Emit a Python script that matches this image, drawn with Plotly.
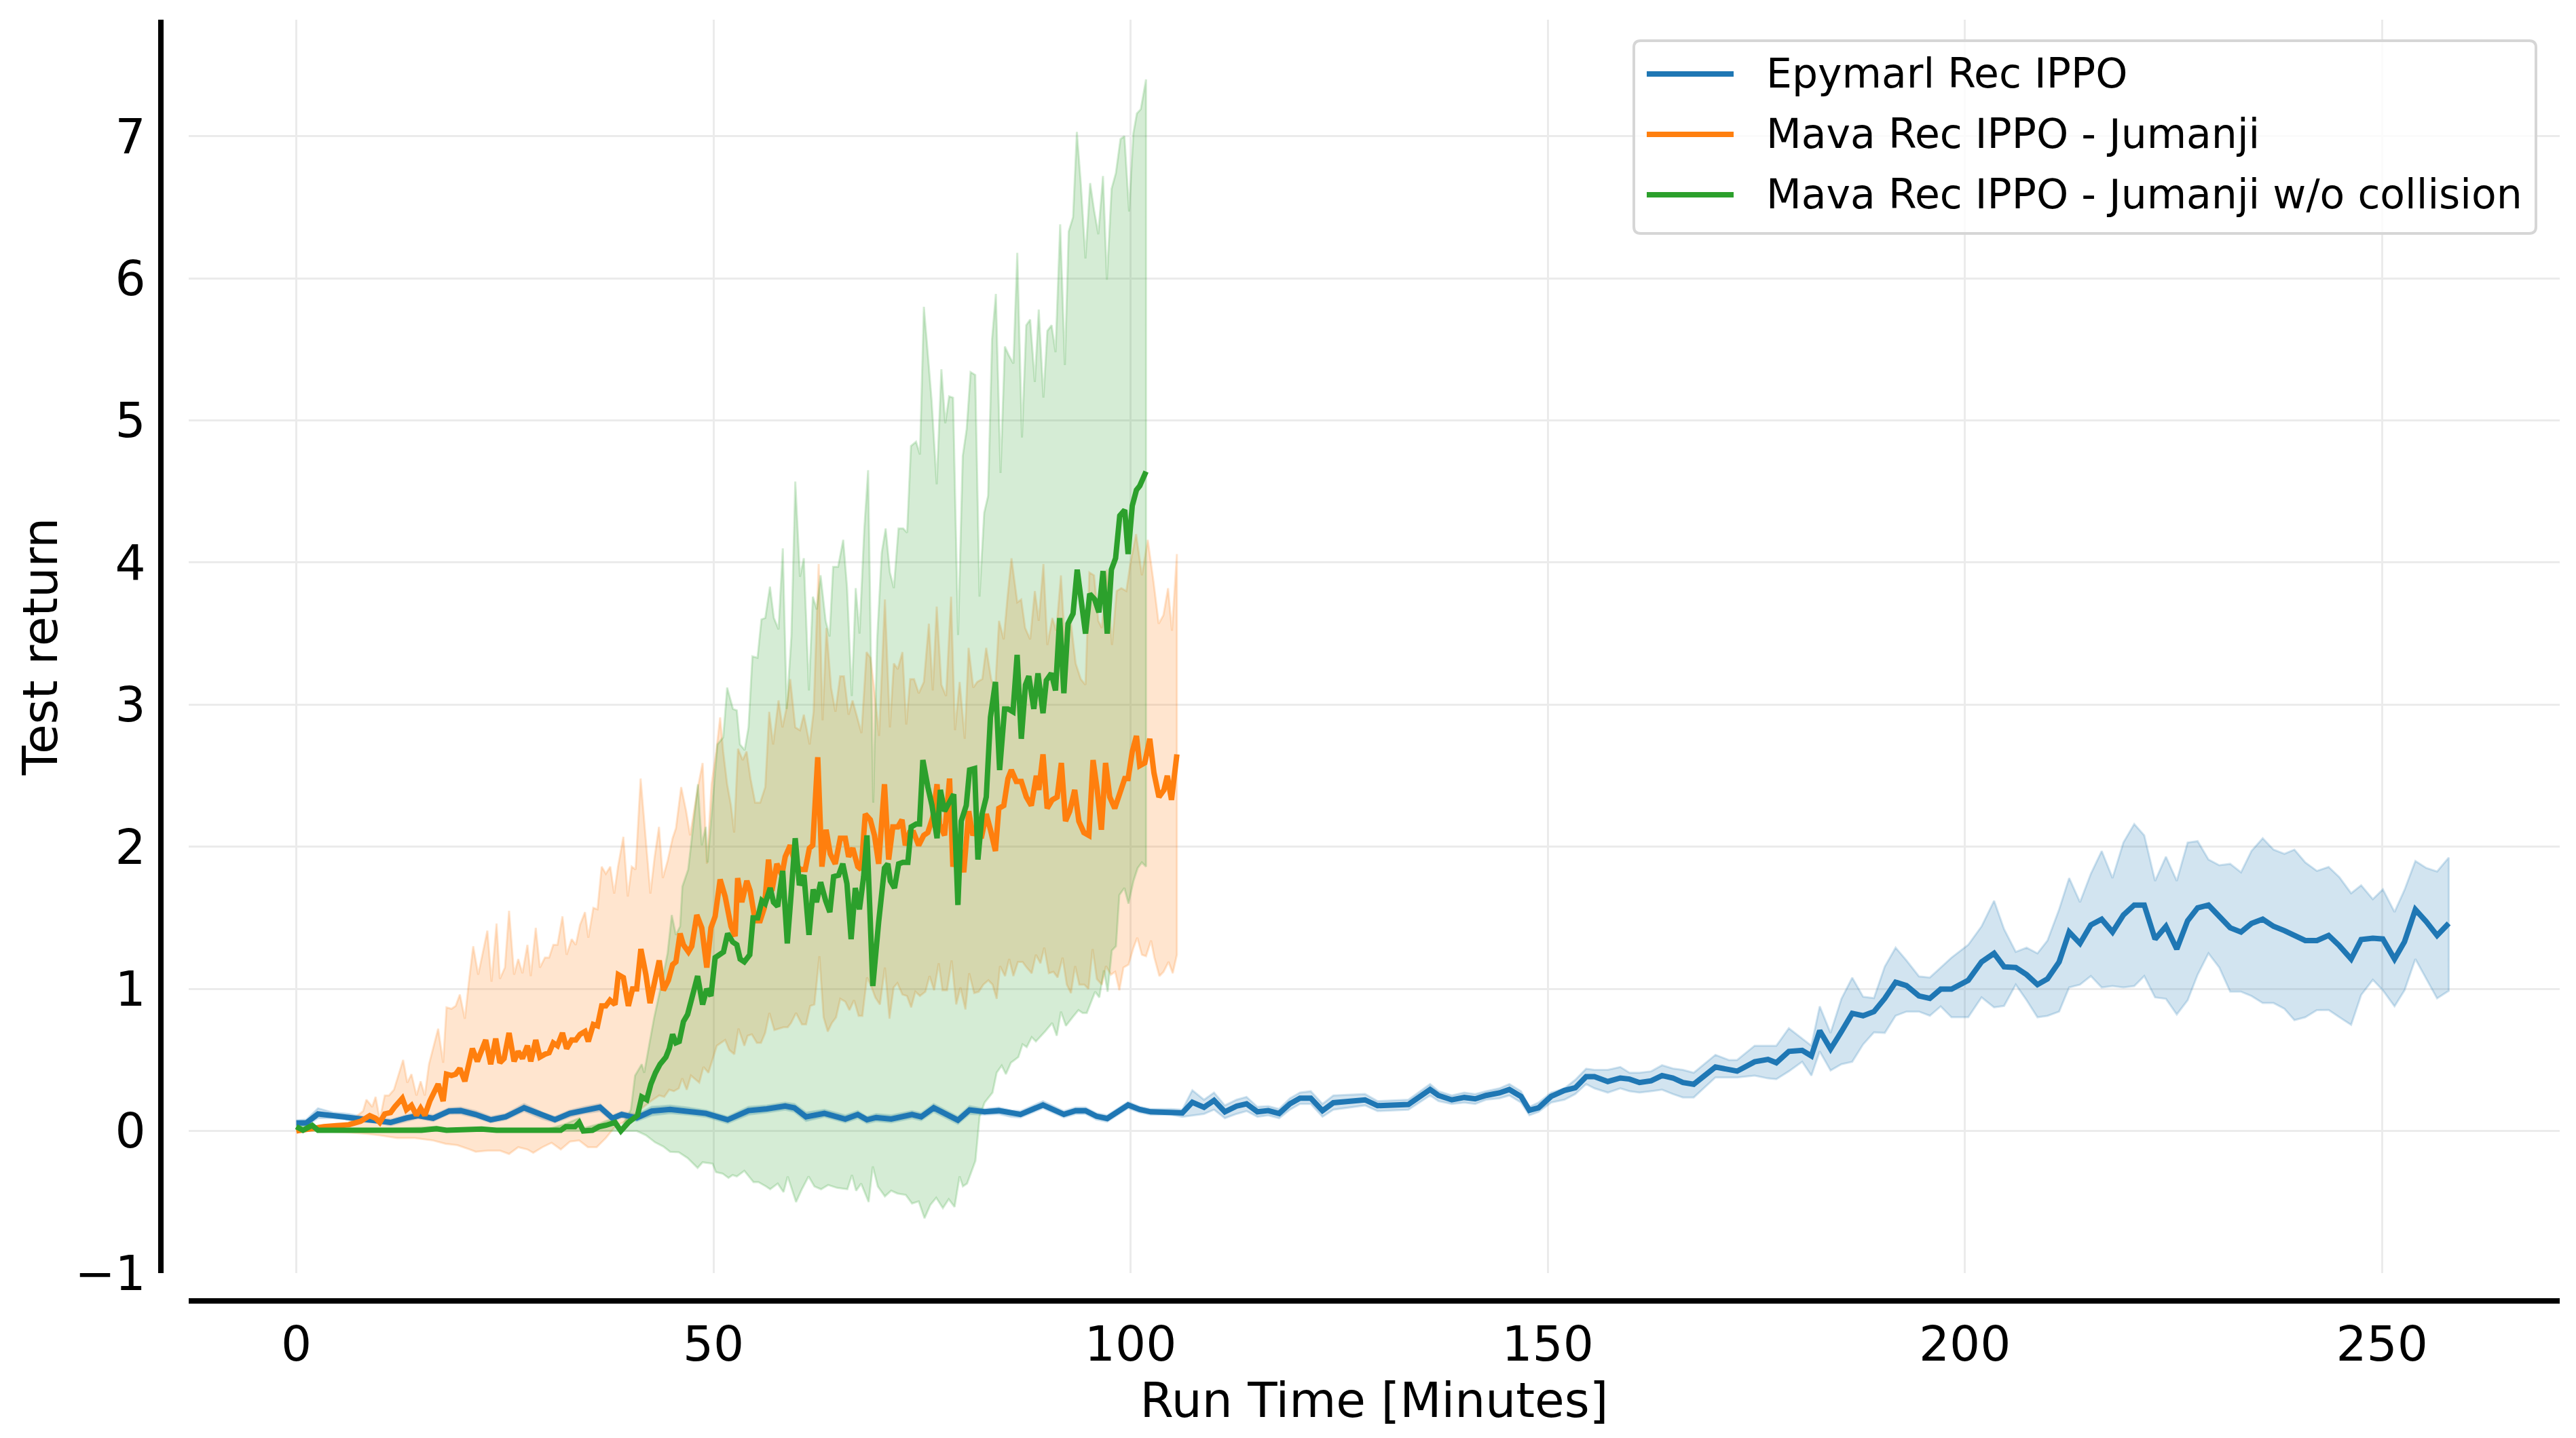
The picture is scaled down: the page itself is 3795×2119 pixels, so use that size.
import plotly.graph_objects as go

# ---------------- data ----------------
SERIES_NAMES = ["Epymarl Rec IPPO", "Mava Rec IPPO - Jumanji", "Mava Rec IPPO - Jumanji w/o collision"]
COLORS = ["#1f77b4", "#ff7f0e", "#2ca02c"]
FILLS = ["rgba(31,119,180,0.2)", "rgba(255,127,14,0.2)", "rgba(44,160,44,0.2)"]

X_TICKS = [0, 50, 100, 150, 200, 250]
Y_TICKS = [-1, 0, 1, 2, 3, 4, 5, 6, 7]
X_TITLE = "Run Time [Minutes]"
Y_TITLE = "Test return"

# Epymarl Rec IPPO: x, mean, lower, upper
blue_x = [0.0, 1.2, 2.6, 4.4, 6.3, 8.1, 9.5, 11.3, 13.2, 14.6, 16.4, 18.3, 19.7, 21.5, 23.3, 25.1, 27.3, 29.5, 31.0, 32.8,
          34.6, 36.4, 37.9, 39.0, 40.8, 42.6, 44.8, 46.9, 49.1, 51.7, 54.2, 56.4, 58.6, 59.7, 61.1, 63.3, 65.8, 67.3, 68.4, 69.5,
          71.3, 73.8, 74.9, 76.4, 79.3, 80.7, 82.5, 84.2, 85.7, 86.8, 89.5, 92.0, 93.4, 94.6, 95.9, 97.2, 99.7, 101.1, 102.4, 104.8,
          106.2, 107.4, 108.8, 110.0, 111.3, 112.7, 113.9, 115.2, 116.5, 117.8, 119.1, 120.3, 121.6, 123.0, 124.3, 128.1, 129.6, 133.3, 135.9, 136.9,
          138.5, 140.0, 141.3, 142.6, 144.2, 145.4, 146.8, 147.8, 148.9, 150.4, 152.0, 153.3, 154.6, 155.6, 157.2, 158.7, 159.8, 161.0, 162.4, 163.7,
          165.0, 166.2, 167.5, 170.1, 171.7, 172.7, 174.8, 176.4, 177.4, 178.9, 180.5, 181.6, 182.6, 183.9, 185.2, 186.5, 187.8, 189.1, 190.4, 191.7,
          193.0, 194.5, 195.8, 197.1, 198.4, 200.4, 202.0, 203.5, 204.7, 206.1, 207.4, 208.7, 209.9, 211.3, 212.5, 213.8, 215.1, 216.4, 217.7, 219.0,
          220.3, 221.5, 222.8, 224.1, 225.4, 226.7, 227.9, 229.2, 230.5, 231.8, 233.1, 234.35, 235.7, 237.0, 238.3, 239.5, 240.8, 242.2, 243.6, 244.9,
          246.3, 247.5, 248.9, 250.1, 251.5, 252.7, 254.0, 255.3, 256.6, 258.0]
blue_y = [0.057, 0.057, 0.12, 0.108, 0.10, 0.084, 0.076, 0.06, 0.092, 0.108, 0.089, 0.14, 0.143, 0.116, 0.079, 0.10, 0.163, 0.108, 0.079, 0.124,
          0.148, 0.167, 0.089, 0.116, 0.092, 0.14, 0.152, 0.14, 0.124, 0.079, 0.143, 0.156, 0.176, 0.163, 0.10, 0.124, 0.084, 0.116, 0.079, 0.095,
          0.084, 0.116, 0.10, 0.163, 0.076, 0.148, 0.135, 0.143, 0.123, 0.117, 0.183, 0.117, 0.143, 0.143, 0.104, 0.088, 0.183, 0.151, 0.135, 0.135,
          0.127, 0.202, 0.167, 0.215, 0.135, 0.175, 0.191, 0.135, 0.143, 0.123, 0.191, 0.231, 0.231, 0.143, 0.199, 0.219, 0.178, 0.187, 0.292, 0.25,
          0.219, 0.236, 0.226, 0.25, 0.268, 0.292, 0.243, 0.146, 0.163, 0.243, 0.285, 0.304, 0.382, 0.382, 0.348, 0.373, 0.365, 0.341, 0.353, 0.39,
          0.373, 0.341, 0.329, 0.45, 0.431, 0.421, 0.487, 0.504, 0.48, 0.56, 0.567, 0.528, 0.706, 0.577, 0.699, 0.828, 0.811, 0.84, 0.933, 1.047,
          1.023, 0.95, 0.933, 0.998, 0.998, 1.06, 1.19, 1.25, 1.155, 1.15, 1.10, 1.03, 1.07, 1.19, 1.40, 1.32, 1.45, 1.49, 1.40, 1.52,
          1.59, 1.59, 1.35, 1.44, 1.28, 1.48, 1.57, 1.59, 1.51, 1.43, 1.40, 1.46, 1.49, 1.44, 1.41, 1.38, 1.34, 1.34, 1.376, 1.303,
          1.21, 1.347, 1.356, 1.351, 1.21, 1.332, 1.558, 1.473, 1.376, 1.461]
blue_lo = [0.035, 0.04, 0.09, 0.09, 0.08, 0.065, 0.06, 0.04, 0.07, 0.09, 0.07, 0.12, 0.12, 0.095, 0.06, 0.08, 0.14, 0.085, 0.06, 0.10,
           0.125, 0.14, 0.07, 0.095, 0.07, 0.11, 0.125, 0.115, 0.10, 0.055, 0.115, 0.13, 0.15, 0.135, 0.07, 0.10, 0.06, 0.09, 0.055, 0.07,
           0.06, 0.09, 0.075, 0.135, 0.05, 0.12, 0.115, 0.12, 0.10, 0.095, 0.16, 0.095, 0.12, 0.12, 0.08, 0.065, 0.16, 0.13, 0.115, 0.115,
           0.10, 0.11, 0.12, 0.15, 0.09, 0.12, 0.14, 0.10, 0.11, 0.09, 0.15, 0.19, 0.19, 0.10, 0.15, 0.18, 0.14, 0.15, 0.25, 0.21,
           0.19, 0.20, 0.19, 0.22, 0.23, 0.25, 0.20, 0.11, 0.134, 0.20, 0.22, 0.26, 0.33, 0.30, 0.27, 0.30, 0.28, 0.27, 0.28, 0.29,
           0.26, 0.236, 0.236, 0.377, 0.377, 0.377, 0.39, 0.37, 0.365, 0.42, 0.487, 0.39, 0.56, 0.426, 0.47, 0.487, 0.609, 0.694, 0.69, 0.811,
           0.84, 0.84, 0.811, 0.877, 0.80, 0.80, 0.94, 0.87, 0.88, 1.03, 0.92, 0.80, 0.81, 0.84, 1.01, 1.03, 1.09, 1.01, 1.02, 1.01,
           1.02, 1.09, 0.94, 0.93, 0.82, 0.92, 1.10, 1.25, 1.15, 0.98, 0.98, 0.95, 0.90, 0.90, 0.86, 0.78, 0.80, 0.85, 0.852, 0.80,
           0.747, 0.957, 1.064, 0.99, 0.877, 0.99, 1.21, 1.071, 0.933, 0.986]
blue_hi = [0.075, 0.08, 0.16, 0.13, 0.12, 0.10, 0.095, 0.08, 0.11, 0.13, 0.11, 0.16, 0.165, 0.14, 0.10, 0.12, 0.19, 0.13, 0.10, 0.145,
           0.17, 0.19, 0.11, 0.135, 0.115, 0.17, 0.18, 0.165, 0.145, 0.10, 0.17, 0.18, 0.20, 0.19, 0.13, 0.15, 0.11, 0.14, 0.10, 0.12,
           0.11, 0.14, 0.125, 0.19, 0.10, 0.175, 0.155, 0.165, 0.145, 0.14, 0.21, 0.14, 0.165, 0.165, 0.125, 0.11, 0.205, 0.17, 0.155, 0.155,
           0.15, 0.287, 0.22, 0.27, 0.18, 0.22, 0.24, 0.17, 0.175, 0.155, 0.23, 0.27, 0.28, 0.19, 0.25, 0.26, 0.21, 0.22, 0.33, 0.28,
           0.25, 0.27, 0.26, 0.28, 0.30, 0.33, 0.28, 0.17, 0.20, 0.27, 0.30, 0.36, 0.438, 0.43, 0.43, 0.45, 0.41, 0.41, 0.42, 0.463,
           0.44, 0.43, 0.41, 0.536, 0.50, 0.50, 0.60, 0.60, 0.60, 0.723, 0.65, 0.60, 0.877, 0.69, 0.93, 1.079, 0.945, 0.935, 1.157, 1.29,
           1.20, 1.088, 1.08, 1.15, 1.22, 1.31, 1.44, 1.62, 1.42, 1.26, 1.29, 1.25, 1.34, 1.56, 1.78, 1.61, 1.81, 1.97, 1.78, 2.03,
           2.16, 2.08, 1.76, 1.93, 1.76, 2.03, 2.04, 1.91, 1.87, 1.88, 1.82, 1.97, 2.06, 1.98, 1.95, 1.98, 1.89, 1.83, 1.858, 1.785,
           1.673, 1.729, 1.631, 1.70, 1.541, 1.697, 1.90, 1.851, 1.826, 1.924]

# Mava Rec IPPO - Jumanji (mean line)
orange_x = [0.0, 1.0, 1.9, 3.3, 4.8, 6.3, 7.7, 8.8, 9.5, 10.0, 10.6, 11.3, 11.8, 12.7, 13.2, 13.8, 14.4, 14.9, 15.4, 16.0,
            17.0, 17.6, 18.0, 18.6, 19.1, 19.6, 20.2, 21.1, 21.7, 22.7, 23.3, 23.9, 24.4, 24.9, 25.5, 26.1, 26.6, 27.1, 27.7, 28.1,
            28.7, 29.2, 29.8, 30.3, 30.8, 31.3, 31.9, 32.4, 33.0, 33.5, 34.0, 34.6, 35.0, 35.6, 36.1, 36.6, 37.1, 37.6, 38.2, 38.6,
            39.2, 39.8, 40.3, 40.8, 41.3, 41.9, 42.4, 43.0, 43.5, 44.0, 44.6, 45.1, 45.5, 46.0, 46.4, 47.0, 47.4, 48.0, 48.6, 49.2,
            49.7, 50.2, 50.8, 51.4, 51.8, 52.1, 52.6, 52.9, 53.4, 54.0, 54.4, 55.0, 55.6, 56.1, 56.6, 57.0, 57.6, 58.2, 58.6, 59.2,
            59.8, 60.4, 61.0, 61.5, 61.9, 62.5, 63.0, 63.5, 64.0, 64.6, 65.2, 65.8, 66.2, 66.7, 67.3, 67.7, 68.2, 68.8, 69.3, 69.8,
            70.5, 71.0, 71.5, 72.1, 72.6, 73.0, 73.5, 74.0, 74.6, 75.2, 75.7, 76.3, 76.8, 77.1, 77.7, 78.3, 78.7, 79.4, 80.0, 80.6,
            81.1, 81.5, 82.1, 82.7, 83.2, 83.8, 84.2, 84.8, 85.3, 85.7, 86.3, 86.9, 87.5, 88.1, 88.7, 89.0, 89.5, 90.0, 90.6, 91.2,
            91.7, 92.2, 92.7, 93.3, 93.8, 94.4, 95.0, 95.5, 96.0, 96.5, 97.0, 97.5, 98.1, 98.7, 99.3, 99.7, 100.2, 100.7, 101.1, 101.7,
            102.3, 102.8, 103.4, 104.0, 104.4, 104.9, 105.55]
orange_y = [0.0, 0.01, 0.013, 0.03, 0.037, 0.044, 0.068, 0.108, 0.09, 0.06, 0.12, 0.13, 0.17, 0.23, 0.15, 0.18, 0.11, 0.16, 0.11, 0.21,
            0.33, 0.21, 0.40, 0.39, 0.40, 0.44, 0.35, 0.58, 0.49, 0.64, 0.47, 0.65, 0.48, 0.51, 0.69, 0.49, 0.56, 0.51, 0.60, 0.49,
            0.64, 0.52, 0.54, 0.55, 0.62, 0.60, 0.69, 0.58, 0.64, 0.64, 0.68, 0.70, 0.63, 0.75, 0.74, 0.88, 0.88, 0.92, 0.89, 1.10,
            1.08, 0.88, 1.00, 1.00, 1.28, 1.10, 0.90, 1.07, 1.20, 0.99, 1.06, 1.17, 1.19, 1.39, 1.31, 1.26, 1.30, 1.52, 1.43, 1.15,
            1.43, 1.51, 1.77, 1.65, 1.50, 1.44, 1.37, 1.78, 1.61, 1.76, 1.69, 1.48, 1.48, 1.57, 1.91, 1.69, 1.88, 1.80, 1.93, 2.01,
            1.88, 1.84, 1.84, 1.99, 2.01, 2.63, 1.86, 2.12, 1.95, 1.88, 2.06, 2.06, 1.93, 1.99, 1.86, 1.84, 2.23, 2.19, 2.08, 1.88,
            2.44, 1.91, 2.14, 2.14, 2.19, 2.01, 2.10, 2.10, 2.01, 2.08, 2.10, 2.21, 2.44, 2.16, 2.08, 2.48, 1.86, 2.03, 1.82, 2.25,
            2.08, 2.14, 2.06, 2.23, 2.12, 1.97, 2.27, 2.29, 2.48, 2.54, 2.46, 2.46, 2.35, 2.29, 2.50, 2.40, 2.65, 2.27, 2.33, 2.35,
            2.59, 2.18, 2.25, 2.40, 2.18, 2.10, 2.08, 2.61, 2.40, 2.12, 2.59, 2.35, 2.27, 2.37, 2.48, 2.48, 2.67, 2.78, 2.57, 2.59,
            2.76, 2.52, 2.35, 2.40, 2.50, 2.33, 2.65]

orange_hi_x = [0.0, 2.6, 4.8, 6.3, 8.0, 8.4, 9.1, 9.5, 10.0, 10.6, 11.1, 11.7, 12.8, 13.3, 13.8, 14.4, 14.9, 15.4, 15.9, 17.0,
               17.6, 18.0, 18.6, 19.1, 19.6, 20.2, 20.7, 21.2, 21.8, 22.9, 23.4, 24.0, 24.4, 25.0, 25.5, 26.1, 26.6, 27.1, 27.7, 28.1,
               28.7, 29.2, 29.8, 30.3, 30.8, 31.3, 31.9, 32.4, 33.0, 33.5, 34.0, 34.6, 35.0, 35.6, 36.1, 36.6, 37.1, 37.63, 38.1, 38.56,
               39.2, 39.73, 40.2, 40.66, 41.27, 41.83, 42.44, 42.95, 43.47, 43.93, 44.5, 45.1, 45.5, 46.13, 46.73, 47.2, 47.67, 48.14, 48.7, 49.21,
               49.77, 50.33, 50.8, 51.17, 51.64, 52.1, 52.48, 52.94, 53.5, 53.97, 54.44, 55.0, 55.6, 56.21, 56.68, 57.15, 57.8, 58.27, 58.73, 59.2,
               59.81, 60.37, 60.83, 61.53, 62.0, 62.61, 63.08, 63.54, 64.1, 64.62, 65.18, 65.64, 66.2, 66.67, 67.14, 67.74, 68.35, 68.82, 69.29, 69.85,
               70.55, 71.15, 71.62, 72.09, 72.65, 73.11, 73.58, 74.05, 74.61, 75.22, 75.82, 76.29, 76.76, 77.32, 77.88, 78.48, 78.95, 79.51, 80.12, 80.58,
               81.14, 81.61, 82.22, 82.69, 83.29, 83.76, 84.23, 84.79, 85.25, 85.72, 86.42, 86.89, 87.36, 87.96, 88.52, 88.99, 89.55, 90.02, 90.62, 91.09,
               91.65, 92.26, 92.82, 93.42, 94.03, 94.59, 95.06, 95.62, 96.13, 96.55, 97.16, 97.77, 98.33, 98.89, 99.49, 99.96, 100.66, 101.36, 102.06, 102.76,
               103.37, 103.93, 104.49, 104.96, 105.55]
orange_hi = [0.0, 0.01, 0.03, 0.06, 0.14, 0.22, 0.17, 0.24, 0.08, 0.25, 0.25, 0.29, 0.50, 0.34, 0.40, 0.25, 0.35, 0.25, 0.47, 0.72,
             0.48, 0.87, 0.86, 0.88, 0.96, 0.79, 1.06, 1.30, 1.10, 1.41, 1.05, 1.46, 1.07, 1.15, 1.55, 1.10, 1.21, 1.11, 1.31, 1.09,
             1.43, 1.15, 1.22, 1.22, 1.31, 1.31, 1.51, 1.24, 1.35, 1.31, 1.45, 1.54, 1.36, 1.57, 1.56, 1.86, 1.81, 1.86, 1.67, 1.86,
             2.07, 1.65, 1.86, 1.84, 2.48, 2.08, 1.67, 1.93, 2.14, 1.78, 1.90, 2.06, 2.13, 2.42, 2.25, 2.08, 2.25, 2.42, 2.59, 1.88,
             2.44, 2.67, 2.91, 2.67, 2.44, 2.29, 2.10, 2.69, 2.61, 2.67, 2.48, 2.31, 2.31, 2.42, 2.95, 2.72, 3.03, 2.84, 2.97, 3.18,
             2.84, 2.82, 2.93, 2.72, 2.95, 3.99, 2.89, 3.54, 3.12, 2.95, 3.20, 3.20, 2.93, 3.03, 2.93, 2.80, 3.37, 3.33, 3.10, 2.78,
             3.74, 2.84, 3.29, 3.25, 3.37, 2.86, 3.18, 3.18, 3.08, 3.16, 3.57, 3.10, 3.69, 3.14, 3.06, 3.76, 2.82, 3.16, 2.76, 3.40,
             3.12, 3.16, 3.18, 3.40, 3.18, 3.10, 3.59, 3.46, 3.76, 4.03, 3.72, 3.74, 3.54, 3.46, 3.80, 3.59, 3.99, 3.42, 3.61, 3.52,
             3.91, 3.31, 3.59, 3.29, 3.18, 3.14, 3.93, 3.91, 3.59, 3.54, 3.95, 3.42, 3.80, 3.82, 3.80, 3.99, 4.20, 3.91, 4.16, 3.86,
             3.57, 3.63, 3.82, 3.52, 4.06]

orange_lo_x = [0.0, 2.6, 6.3, 8.4, 9.9, 12.1, 14.2, 16.4, 17.9, 19.3, 20.8, 21.5, 23.0, 24.4, 25.5, 26.6, 27.7, 28.4, 29.5, 30.6,
               31.7, 32.8, 33.9, 34.95, 36.0, 37.1, 38.2, 39.8, 41.2, 42.5, 43.5, 44.1, 44.7, 45.25, 45.85, 46.25, 46.8, 47.3, 48.3, 48.8,
               49.4, 50.4, 51.4, 51.9, 52.5, 53.0, 53.7, 54.1, 54.6, 55.2, 55.7, 56.2, 56.7, 57.3, 57.9, 58.4, 58.9, 59.3, 59.9, 60.6,
               61.1, 61.6, 62.1, 62.7, 63.2, 63.7, 64.2, 64.7, 65.2, 65.8, 66.3, 66.85, 67.4, 67.85, 68.4, 68.9, 69.4, 69.95, 70.55, 71.1,
               71.6, 72.05, 72.65, 73.2, 73.7, 74.2, 74.75, 75.4, 75.9, 76.45, 77.0, 77.45, 78.0, 78.55, 79.1, 79.6, 80.2, 80.65, 81.25, 81.8,
               82.35, 82.95, 83.45, 83.95, 84.35, 84.95, 85.45, 85.95, 86.5, 87.05, 87.55, 88.15, 88.65, 89.2, 89.65, 90.2, 90.75, 91.25, 91.85, 92.35,
               92.85, 93.35, 93.85, 94.45, 94.95, 95.45, 95.95, 96.55, 97.05, 97.65, 98.15, 98.65, 99.15, 99.75, 100.35, 100.8, 101.35, 101.85, 102.45, 102.85,
               103.45, 103.95, 104.55, 105.05, 105.55]
orange_lo = [0.0, 0.0, -0.01, -0.02, -0.03, -0.05, -0.05, -0.067, -0.09, -0.10, -0.13, -0.146, -0.138, -0.138, -0.162, -0.114, -0.13, -0.154, -0.114, -0.083,
             -0.13, -0.075, -0.067, -0.114, -0.114, -0.05, 0.03, 0.08, 0.15, 0.21, 0.25, 0.24, 0.29, 0.28, 0.30, 0.37, 0.29, 0.39, 0.34, 0.45,
             0.41, 0.60, 0.64, 0.57, 0.54, 0.72, 0.60, 0.67, 0.68, 0.62, 0.62, 0.69, 0.83, 0.71, 0.72, 0.73, 0.73, 0.76, 0.83, 0.75,
             0.75, 0.88, 0.89, 1.23, 0.80, 0.70, 0.76, 0.80, 0.93, 0.91, 0.85, 0.92, 0.81, 0.81, 1.08, 1.02, 0.94, 0.89, 1.15, 0.79,
             1.01, 1.04, 0.96, 0.95, 0.87, 0.98, 0.95, 0.98, 1.09, 0.99, 1.18, 0.99, 0.99, 1.20, 0.89, 1.01, 0.855, 1.11, 0.97, 0.98,
             1.03, 1.06, 1.03, 0.93, 1.16, 1.09, 1.21, 1.09, 1.19, 1.19, 1.15, 1.11, 1.24, 1.18, 1.29, 1.11, 1.12, 1.08, 1.22, 1.03,
             0.97, 1.16, 1.03, 1.03, 1.00, 1.28, 1.07, 1.03, 1.16, 1.10, 1.12, 0.99, 1.15, 1.17, 1.29, 1.36, 1.24, 1.23, 1.34, 1.22,
             1.09, 1.12, 1.19, 1.11, 1.24]

# Mava Rec IPPO - Jumanji w/o collision (mean line)
green_x = [0.0, 0.8, 1.9, 2.6, 5.0, 10.0, 15.0, 16.8, 18.0, 22.2, 24.0, 30.0, 31.7, 32.3, 33.4, 33.9, 34.4, 35.5, 36.3, 37.1,
           38.2, 38.9, 39.8, 40.9, 41.4, 42.0, 42.5, 43.05, 43.6, 44.3, 44.7, 45.1, 45.5, 45.9, 46.4, 46.9, 47.5, 48.1, 48.7, 49.2,
           49.7, 50.2, 51.2, 51.7, 52.3, 52.8, 53.2, 53.7, 54.35, 54.75, 55.3, 55.8, 56.2, 56.8, 57.2, 57.7, 58.3, 58.85, 59.3, 59.8,
           60.3, 60.85, 61.45, 61.95, 62.35, 62.85, 63.45, 63.95, 64.4, 65.0, 65.5, 66.0, 66.5, 67.0, 67.5, 68.0, 68.4, 69.1, 69.8, 70.5,
           70.9, 71.2, 71.7, 72.2, 72.7, 73.3, 73.7, 74.3, 74.7, 75.1, 75.7, 76.2, 76.8, 77.2, 77.7, 78.2, 78.8, 79.3, 79.7, 80.3,
           80.7, 81.3, 81.7, 82.2, 82.7, 83.2, 83.8, 84.3, 84.9, 85.3, 85.9, 86.4, 86.9, 87.4, 87.8, 88.4, 88.9, 89.5, 89.9, 90.5,
           91.0, 91.5, 92.0, 92.5, 93.1, 93.6, 94.1, 94.6, 95.1, 95.7, 96.2, 96.7, 97.2, 97.7, 98.2, 98.7, 99.3, 99.7, 100.2, 100.7,
           101.1, 101.5, 101.85]
green_y = [0.03, 0.005, 0.04, 0.005, 0.005, 0.005, 0.005, 0.016, 0.005, 0.013, 0.005, 0.005, 0.005, 0.03, 0.03, 0.06, 0.0, 0.005, 0.03, 0.04,
           0.06, 0.0, 0.06, 0.11, 0.24, 0.22, 0.33, 0.41, 0.47, 0.52, 0.58, 0.68, 0.62, 0.63, 0.77, 0.82, 0.96, 1.09, 0.89, 1.0,
           0.95, 1.22, 1.26, 1.39, 1.33, 1.31, 1.21, 1.19, 1.24, 1.50, 1.50, 1.62, 1.60, 1.71, 1.61, 1.58, 1.83, 1.32, 1.66, 2.06,
           1.73, 1.80, 1.38, 1.70, 1.61, 1.75, 1.62, 1.54, 1.79, 1.80, 1.88, 1.74, 1.35, 1.71, 1.56, 1.79, 2.08, 1.02, 1.47, 1.85,
           1.88, 1.76, 1.71, 1.88, 1.89, 1.89, 2.14, 2.16, 2.16, 2.61, 2.42, 2.29, 2.06, 2.40, 2.25, 2.31, 2.37, 1.59, 2.18, 2.29,
           2.54, 2.55, 1.91, 2.23, 2.35, 2.91, 3.16, 2.54, 2.97, 2.97, 2.95, 3.35, 2.76, 3.14, 3.20, 2.97, 3.22, 2.94, 3.17, 3.22,
           3.10, 3.61, 3.08, 3.57, 3.64, 3.95, 3.69, 3.50, 3.78, 3.74, 3.65, 3.94, 3.50, 3.95, 4.03, 4.33, 4.37, 4.06, 4.40, 4.51,
           4.54, 4.59, 4.64]

green_hi_x = [0.0, 1.9, 2.6, 10.0, 16.8, 18.0, 30.0, 32.3, 33.9, 34.4, 36.3, 37.1, 38.2, 38.9, 40.1, 40.6, 41.4, 41.7, 42.4, 42.9,
              43.9, 44.5, 45.0, 45.5, 46.0, 46.27, 46.97, 47.43, 48.14, 48.6, 49.07, 49.3, 49.68, 50.0, 50.47, 51.17, 51.64, 52.34, 52.8, 53.18,
              53.74, 54.2, 54.67, 55.28, 55.75, 56.21, 56.77, 57.24, 57.8, 58.31, 58.78, 59.34, 59.81, 60.37, 60.83, 61.44, 61.91, 62.38, 62.84, 63.45,
              63.92, 64.34, 64.94, 65.55, 66.02, 66.58, 67.05, 67.51, 68.07, 68.54, 69.15, 69.61, 70.17, 70.64, 71.15, 71.62, 72.18, 72.74, 73.21, 73.67,
              74.28, 74.75, 75.22, 75.68, 76.15, 76.76, 77.32, 77.78, 78.25, 78.72, 79.32, 79.88, 80.35, 80.82, 81.38, 81.89, 82.45, 82.92, 83.39, 83.85,
              84.41, 84.93, 85.39, 85.95, 86.42, 86.98, 87.49, 87.96, 88.52, 88.99, 89.55, 90.02, 90.53, 91.0, 91.56, 92.12, 92.58, 93.1, 93.56, 94.03,
              94.59, 95.15, 95.62, 96.13, 96.69, 97.16, 97.72, 98.23, 98.79, 99.26, 99.82, 100.33, 100.75, 101.22, 101.85]
green_hi = [0.03, 0.05, 0.01, 0.01, 0.03, 0.01, 0.01, 0.05, 0.09, 0.02, 0.05, 0.07, 0.09, 0.02, 0.15, 0.39, 0.47, 0.41, 0.64, 0.80,
            1.07, 1.25, 1.52, 1.38, 1.44, 1.72, 1.84, 2.08, 2.44, 2.01, 2.14, 1.89, 2.16, 2.40, 2.72, 2.77, 3.12, 2.97, 2.96, 2.72,
            2.68, 2.84, 3.34, 3.33, 3.60, 3.61, 3.83, 3.61, 3.53, 4.10, 2.97, 3.48, 4.57, 3.90, 4.03, 3.10, 3.76, 3.67, 3.91, 3.59,
            3.48, 3.97, 3.97, 4.16, 3.82, 3.06, 3.82, 3.50, 4.23, 4.65, 2.31, 3.45, 4.07, 4.24, 3.93, 3.82, 4.24, 4.24, 4.21, 4.82,
            4.85, 4.76, 5.80, 5.48, 5.14, 4.55, 5.36, 4.98, 5.17, 5.16, 3.49, 4.75, 4.94, 5.34, 5.32, 3.76, 4.35, 4.47, 5.57, 5.89,
            4.63, 5.52, 5.46, 5.40, 6.18, 4.88, 5.67, 5.71, 5.27, 5.78, 5.16, 5.63, 5.67, 5.48, 6.38, 5.39, 6.33, 6.43, 7.03, 6.67,
            6.14, 6.67, 6.48, 6.31, 6.72, 5.99, 6.63, 6.74, 6.98, 7.00, 6.47, 7.02, 7.16, 7.19, 7.40]

green_lo_x = [0.0, 10.0, 20.0, 30.0, 38.2, 40.8, 41.9, 43.0, 44.0, 44.8, 45.85, 46.9, 48.1, 48.7, 49.9, 50.3, 51.1, 51.8, 52.3, 52.8,
              53.7, 54.8, 55.4, 56.3, 56.8, 57.7, 58.4, 58.9, 59.9, 60.6, 61.4, 62.1, 62.9, 63.75, 64.8, 66.05, 66.6, 67.1, 67.7, 68.6,
              69.1, 69.7, 70.55, 71.3, 72.05, 73.05, 73.8, 74.6, 75.3, 76.0, 76.7, 77.5, 78.2, 78.9, 79.5, 79.9, 80.4, 81.4, 81.9, 82.5,
              83.45, 83.95, 84.55, 85.05, 85.65, 86.55, 87.05, 87.55, 88.15, 88.65, 89.75, 90.6, 91.15, 91.65, 92.25, 93.05, 93.75, 94.25, 94.75, 95.75,
              96.25, 96.8, 97.25, 97.75, 98.25, 98.65, 99.25, 99.75, 100.35, 100.85, 101.35, 101.85]
green_lo = [0.0, 0.0, 0.0, 0.0, 0.0, 0.0, -0.03, -0.08, -0.11, -0.146, -0.15, -0.19, -0.26, -0.22, -0.23, -0.29, -0.30, -0.33, -0.31, -0.32,
            -0.28, -0.36, -0.36, -0.39, -0.41, -0.37, -0.43, -0.32, -0.50, -0.41, -0.32, -0.39, -0.41, -0.38, -0.40, -0.41, -0.31, -0.42, -0.37, -0.50,
            -0.25, -0.39, -0.46, -0.42, -0.44, -0.45, -0.51, -0.495, -0.614, -0.52, -0.47, -0.543, -0.48, -0.535, -0.32, -0.39, -0.37, -0.21, 0.10, 0.20,
            0.27, 0.41, 0.46, 0.40, 0.48, 0.52, 0.61, 0.59, 0.66, 0.63, 0.70, 0.76, 0.67, 0.84, 0.74, 0.80, 0.85, 0.83, 0.83, 0.98,
            0.94, 1.13, 0.98, 1.27, 1.30, 1.66, 1.71, 1.60, 1.76, 1.85, 1.89, 1.86]

# ---------------- figure ----------------
W, H = 3795, 2119
FONT = "DejaVu Sans"

fig = go.Figure()

bands = [
    (blue_x, blue_hi, blue_x, blue_lo),
    (orange_hi_x, orange_hi, orange_lo_x, orange_lo),
    (green_hi_x, green_hi, green_lo_x, green_lo),
]
for i, (xh, yh, xl, yl) in enumerate(bands):
    fig.add_trace(go.Scatter(
        x=list(xh) + list(xl)[::-1],
        y=list(yh) + list(yl)[::-1],
        mode="lines", fill="toself", fillcolor=FILLS[i],
        line=dict(color=FILLS[i], width=3),
        showlegend=False, hoverinfo="skip",
    ))

lines = [(blue_x, blue_y), (orange_x, orange_y), (green_x, green_y)]
for i, (xs, ys) in enumerate(lines):
    fig.add_trace(go.Scatter(
        x=xs, y=ys, mode="lines", name=SERIES_NAMES[i],
        line=dict(color=COLORS[i], width=8),
        showlegend=False,
    ))

# geometry (pixels in the 3795x2119 canvas)
ax_left, ax_right, ax_top, ax_bottom = 278, 3771, 29, 1876
yspine_x, xspine_y = 237, 1917


def px(x):
    return x / W


def py(y):
    return 1 - y / H


# legend box (matplotlib-style, rounded frame)
L, R, T, B, r = 2407, 3736, 60, 344, 10
path = (
    f"M {px(L + r)},{py(T)} L {px(R - r)},{py(T)} Q {px(R)},{py(T)} {px(R)},{py(T + r)} "
    f"L {px(R)},{py(B - r)} Q {px(R)},{py(B)} {px(R - r)},{py(B)} "
    f"L {px(L + r)},{py(B)} Q {px(L)},{py(B)} {px(L)},{py(B - r)} "
    f"L {px(L)},{py(T + r)} Q {px(L)},{py(T)} {px(L + r)},{py(T)} Z"
)
shapes = [dict(type="path", xref="paper", yref="paper", path=path,
               fillcolor="rgba(255,255,255,0.8)", line=dict(color="#d6d6d6", width=4), layer="above")]
annotations = []
row_y = [109, 198, 287]
for i, name in enumerate(SERIES_NAMES):
    shapes.append(dict(type="line", xref="paper", yref="paper",
                       x0=px(2426), x1=px(2554), y0=py(row_y[i]), y1=py(row_y[i]),
                       line=dict(color=COLORS[i], width=8), layer="above"))
    annotations.append(dict(xref="paper", yref="paper", x=px(2600), y=py(row_y[i] - 1),
                            xanchor="left", yanchor="middle", showarrow=False, text=name,
                            font=dict(family=FONT, size=60, color="black")))

axis_font = dict(family=FONT, size=71, color="black")
fig.update_layout(
    width=W, height=H, autosize=False,
    margin=dict(l=0, r=0, t=0, b=0, pad=0),
    paper_bgcolor="white", plot_bgcolor="white",
    font=dict(family=FONT, color="black"),
    showlegend=False,
    shapes=shapes,
    annotations=annotations,
    xaxis=dict(
        domain=[ax_left / W, ax_right / W],
        range=[-12.9, 271.3],
        anchor="free", position=1 - xspine_y / H,
        showline=True, linecolor="black", linewidth=8,
        showgrid=True, gridcolor="#ebebeb", gridwidth=2.5,
        zeroline=False,
        tickmode="array", tickvals=X_TICKS, ticks="",
        ticklabelstandoff=-1,
        tickfont=axis_font,
        title=dict(text=X_TITLE, font=axis_font, standoff=0),
        automargin=False,
    ),
    yaxis=dict(
        domain=[1 - ax_bottom / H, 1 - ax_top / H],
        range=[-1.0, 7.82],
        anchor="free", position=yspine_x / W,
        showline=True, linecolor="black", linewidth=8,
        showgrid=True, gridcolor="#ebebeb", gridwidth=2.5,
        zeroline=False,
        tickmode="array", tickvals=Y_TICKS, ticks="",
        ticklabelstandoff=4,
        tickfont=axis_font,
        title=dict(text=Y_TITLE, font=axis_font, standoff=1),
        automargin=False,
    ),
)

fig.write_html("out.html")
